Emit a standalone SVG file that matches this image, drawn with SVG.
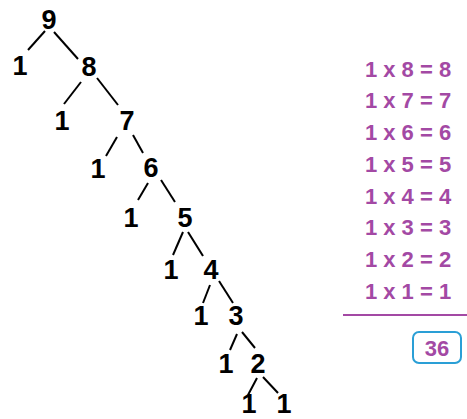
<svg xmlns="http://www.w3.org/2000/svg" width="467" height="419" viewBox="0 0 467 419">
<style>
.n{font-family:"Liberation Sans",Arial,sans-serif;font-weight:bold;font-size:27px;fill:#000;text-anchor:middle}
.p{font-family:"Liberation Sans",Arial,sans-serif;font-weight:bold;font-size:22px;fill:#A349A4;text-anchor:middle}
.e{stroke:#000;stroke-width:2;fill:none}
</style>
<rect width="467" height="419" fill="#fff"/>
<g id="connectors">
<line class="e" x1="45" y1="31" x2="28" y2="50"/>
<line class="e" x1="54" y1="32" x2="78" y2="59"/>
<line class="e" x1="81" y1="82" x2="64" y2="104"/>
<line class="e" x1="97" y1="78" x2="118" y2="105"/>
<line class="e" x1="117" y1="137" x2="106" y2="156"/>
<line class="e" x1="133" y1="135" x2="143" y2="153"/>
<line class="e" x1="148" y1="183" x2="138" y2="200"/>
<line class="e" x1="161" y1="180" x2="175" y2="202"/>
<line class="e" x1="183" y1="232" x2="173" y2="255"/>
<line class="e" x1="188" y1="232" x2="203" y2="256"/>
<line class="e" x1="210" y1="285" x2="203" y2="303"/>
<line class="e" x1="219" y1="281" x2="233" y2="303"/>
<line class="e" x1="237" y1="334" x2="230" y2="350"/>
<line class="e" x1="242" y1="332" x2="255" y2="348"/>
<line class="e" x1="257" y1="378" x2="248" y2="395"/>
<line class="e" x1="263" y1="377" x2="278" y2="393"/>
</g>
<g id="n9"><text class="n" x="49" y="29">9</text></g>
<g id="n1a"><text class="n" x="20" y="75">1</text></g>
<g id="n8"><text class="n" x="89" y="76">8</text></g>
<g id="n1b"><text class="n" x="62" y="130">1</text></g>
<g id="n7"><text class="n" x="127" y="130">7</text></g>
<g id="n1c"><text class="n" x="98" y="178">1</text></g>
<g id="n6"><text class="n" x="151" y="177">6</text></g>
<g id="n1d"><text class="n" x="131" y="227">1</text></g>
<g id="n5"><text class="n" x="185" y="227">5</text></g>
<g id="n1e"><text class="n" x="171" y="279">1</text></g>
<g id="n4"><text class="n" x="211" y="279">4</text></g>
<g id="n1f"><text class="n" x="201" y="325">1</text></g>
<g id="n3"><text class="n" x="236" y="325">3</text></g>
<g id="n1g"><text class="n" x="226" y="373">1</text></g>
<g id="n2"><text class="n" x="258" y="373">2</text></g>
<g id="n1h"><text class="n" x="249" y="413">1</text></g>
<g id="n1i"><text class="n" x="284" y="413">1</text></g>
<g id="sums">
<text class="p" x="408" y="77">1 x 8 = 8</text>
<text class="p" x="408" y="108">1 x 7 = 7</text>
<text class="p" x="408" y="140">1 x 6 = 6</text>
<text class="p" x="408" y="172">1 x 5 = 5</text>
<text class="p" x="408" y="204">1 x 4 = 4</text>
<text class="p" x="408" y="235">1 x 3 = 3</text>
<text class="p" x="408" y="267">1 x 2 = 2</text>
<text class="p" x="408" y="299">1 x 1 = 1</text>
<line x1="343" y1="315" x2="467" y2="315" stroke="#A349A4" stroke-width="2"/>
</g>
<g id="total">
<rect x="413" y="332" width="48" height="31" rx="6" fill="#fff" stroke="#2A9FD6" stroke-width="2"/>
<text class="p" x="437" y="356">36</text>
</g>
</svg>
